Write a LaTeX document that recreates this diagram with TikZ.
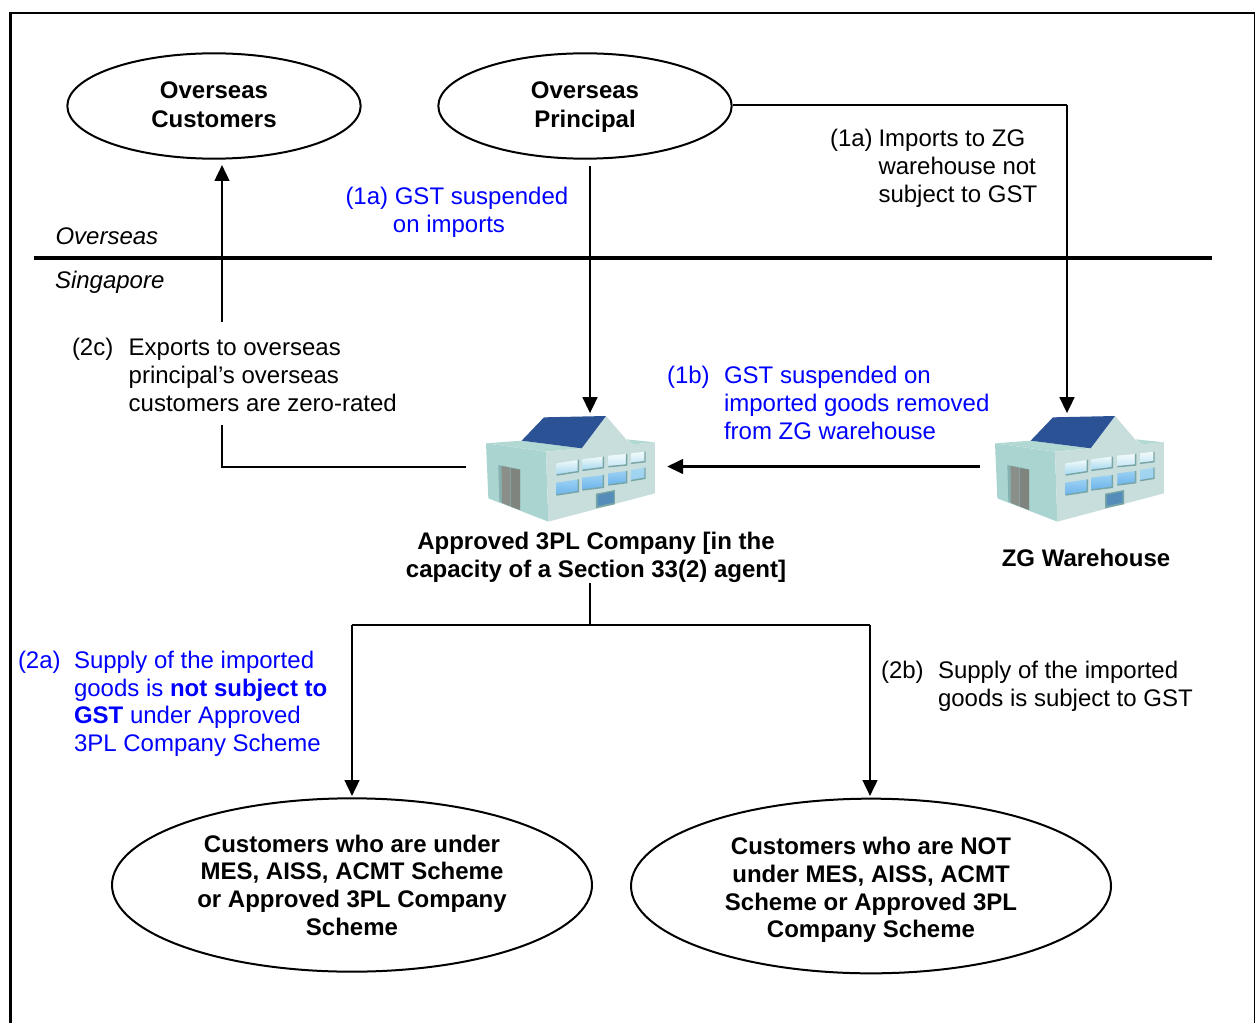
\documentclass[tikz,border=0pt]{standalone}
\usepackage{fontspec}
\setmainfont{Liberation Sans}
\usetikzlibrary{arrows.meta,shapes.geometric}
\definecolor{tblue}{RGB}{0,0,255}
\definecolor{wallL}{RGB}{170,212,208}
\definecolor{wallF}{RGB}{200,222,220}
\definecolor{wallT}{RGB}{178,216,212}
\definecolor{roofB}{RGB}{44,82,150}
\definecolor{winF}{RGB}{120,165,165}
\definecolor{doorG}{RGB}{138,143,138}
\definecolor{winA}{RGB}{240,250,250}
\definecolor{winB}{RGB}{165,215,240}
\definecolor{winC}{RGB}{155,208,242}
\definecolor{winD}{RGB}{108,180,236}
\definecolor{winE}{RGB}{84,140,186}
\tikzset{
  x=0.75pt,y=-0.75pt,
  every node/.style={font=\fontsize{18}{21}\selectfont},
  oval/.style={draw,ellipse,line width=1.5pt,inner sep=0pt,align=center,font=\fontsize{18}{21}\selectfont\bfseries},
  txt/.style={inner sep=0pt,outer sep=0pt,anchor=north west,align=left},
  ctxt/.style={inner sep=0pt,outer sep=0pt,anchor=north,align=center,font=\fontsize{18}{21}\selectfont\bfseries},
  blu/.style={text=tblue},
  lin/.style={line width=1.9pt},
  arr/.style={line width=1.9pt,-{Triangle[length=12pt,width=11pt]}},
  ghost/.style={inner sep=0pt,outer sep=0pt,draw=none},
}
% x, top-left y, width, top-right y, height, top colour, bottom colour
\newcommand{\win}[7]{%
  \shade[top color=#6,bottom color=#7] (#1,#2) -- (#1+#3,#4) -- (#1+#3,#4+#5) -- (#1,#2+#5) -- cycle;
  \draw[winF,line width=1.1pt] (#1,#2+#5) -- (#1+#3,#4+#5) -- (#1+#3,#4);}
\newcommand{\bldg}[2]{%
\begin{scope}[shift={(#1,#2)},xscale=0.3333,yscale=0.3333]
  \fill[wallL] (48,130) -- (228,155) -- (235,365) -- (55,295) -- cycle;
  \fill[wallT] (155,122) -- (48,130) -- (228,155) -- (335,145) -- cycle;
  \fill[wallF] (228,155) -- (335,145) -- (408,48) -- (470,120) -- (490,133) -- (555,127) -- (555,280) -- (235,365) -- cycle;
  \fill[wallT] (470,118) -- (555,127) -- (490,133) -- cycle;
  \fill[roofB] (222,52) -- (408,48) -- (335,145) -- (155,122) -- cycle;
  \win{260}{190}{65}{180}{35}{winA}{winB}
  \win{337}{178}{63}{170}{33}{winA}{winB}
  \win{415}{167}{55}{162}{33}{winA}{winB!60!white}
  \win{483}{160}{42}{155}{30}{winA}{winB!60!white}
  \win{260}{248}{65}{238}{37}{winC}{winD}
  \win{337}{233}{63}{225}{37}{winC}{winD}
  \win{415}{220}{55}{213}{35}{winC}{winD}
  \win{483}{210}{42}{203}{32}{winB}{winC}
  \fill[winF!75!wallL] (85,195) -- (150,208) -- (150,330) -- (88,305) -- cycle;
  \fill[doorG] (95,198) -- (121,203) -- (121,319) -- (96,309) -- cycle;
  \fill[doorG!92!black] (123,204) -- (150,209) -- (150,330) -- (123,320) -- cycle;
  \fill[winF] (378,281) -- (435,270) -- (435,313) -- (378,325) -- cycle;
  \fill[winE] (383,285) -- (431,275) -- (431,308) -- (383,318) -- cycle;
\end{scope}}
\begin{document}
\begin{tikzpicture}
\useasboundingbox (0,0) rectangle (1255,1023);
\draw[line width=1.6pt] (10.5,1040) -- (10.5,13) -- (1255.5,13) -- (1255.5,1040);

\bldg{470}{400}
\bldg{979}{400}
\node[ghost,minimum width=151pt,minimum height=80pt] (bone) at (566.5,466.5) {};
\node[ghost,minimum width=150pt,minimum height=80pt] (bzg) at (1080,466.5) {};

\node[oval,minimum width=220pt,minimum height=79pt] (ocust) at (214,106) {\rule{0pt}{16.2pt}Overseas\\[0.75pt]\strut Customers};
\node[oval,minimum width=220pt,minimum height=79pt] (oprin) at (585,106) {\rule{0pt}{16.2pt}Overseas\\[0.75pt]\strut Principal};
\node[oval,minimum width=360pt,minimum height=130pt] (cin) at (352,885) {\rule{0pt}{19.2pt}Customers who are under\\[-0.2pt]\strut MES, AISS, ACMT Scheme\\[-0.2pt]\strut or Approved 3PL Company\\[-0.2pt]\strut Scheme};
\node[oval,minimum width=360pt,minimum height=131pt] (cout) at (871,886) {\rule{0pt}{21.5pt}Customers who are NOT\\[-0.2pt]\strut under MES, AISS, ACMT\\[-0.2pt]\strut Scheme or Approved 3PL\\[-0.2pt]\strut Company Scheme};

\coordinate (lineL) at (34,258);
\coordinate (lineR) at (1212,258);
\draw[line width=2.6pt] (lineL) -- (lineR);
\node[txt,font=\fontsize{18}{21}\selectfont\itshape] (tover) at (55.5,225) {\strut Overseas};
\node[txt,font=\fontsize{18}{21}\selectfont\itshape] (tsing) at (55,269) {\strut Singapore};

% connectors
\coordinate (pdown) at (590,166);
\draw[arr] (pdown) -- (pdown |- bone.north);
\coordinate (pcorner) at (1067,105);
\draw[lin,-] (oprin.east |- pcorner) -- (pcorner);
\draw[arr] (pcorner) -- (pcorner |- bzg.north);
\draw[arr] (bzg.west) -- (bone.east);
\coordinate (xcorner) at (222,467);
\coordinate (xgap1) at (222,425);
\coordinate (xgap2) at (222,322);
\coordinate (xtop) at (222,165);
\coordinate (bleft) at (466,467);
\draw[lin] (bleft) -- (xcorner) -- (xgap1);
\draw[arr] (xgap2) -- (xtop);
\coordinate (stem) at (590,583);
\coordinate (stemb) at (590,625);
\coordinate (brl) at (352,625);
\coordinate (brr) at (870,625);
\coordinate (endl) at (352,796);
\coordinate (endr) at (870,796);
\draw[lin] (stem) -- (stemb);
\draw[lin] (brl) -- (brr);
\draw[arr] (brl) -- (endl);
\draw[arr] (brr) -- (endr);

% labels
\node[txt,blu] (t1a) at (345.5,185) {\strut (1a) GST suspended\\\hspace*{35.6pt}\strut on imports};
\node[txt] (t1at) at (830,127) {\strut (1a)};
\node[txt] (t1ab) at (878.5,127) {\strut Imports to ZG\\\strut warehouse not\\\strut subject to GST};
\node[txt] (t2ct) at (72,336) {\strut (2c)};
\node[txt] (t2c) at (128.7,336) {\strut Exports to overseas\\\strut principal’s overseas\\\strut customers are zero-rated};
\node[txt,blu] (t1bt) at (667,364) {\strut (1b)};
\node[txt,blu] (t1b) at (724,364) {\strut GST suspended on\\[-0.2pt]\strut imported goods removed\\[-0.2pt]\strut from ZG warehouse};
\node[ctxt] (tbone) at (596,530) {\strut Approved 3PL Company [in the\\\strut capacity of a Section 33(2) agent]};
\node[ctxt] (tbzg) at (1086,547) {\strut ZG Warehouse};
\node[txt,blu] (t2at) at (18,648.7) {\strut (2a)};
\node[txt,blu] (t2a) at (74,648.7) {\strut Supply of the imported\\[-0.2pt]\strut goods is \textbf{not subject to}\\[-0.2pt]\strut \textbf{GST} under Approved\\[-0.2pt]\strut 3PL Company Scheme};
\node[txt] (t2bt) at (881,659) {\strut (2b)};
\node[txt] (t2b) at (938,659) {\strut Supply of the imported\\\strut goods is subject to GST};
\end{tikzpicture}
\end{document}
